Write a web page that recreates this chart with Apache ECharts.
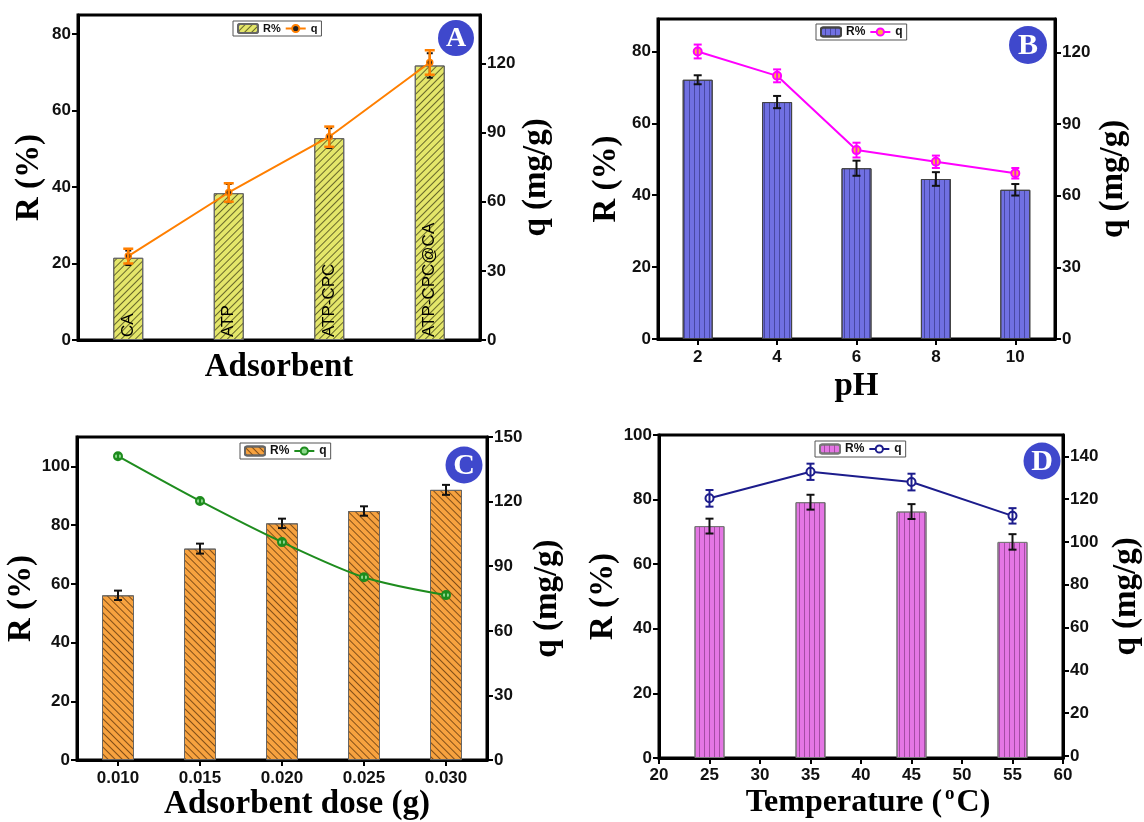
<!DOCTYPE html>
<html>
<head>
<meta charset="utf-8">
<script src="https://cdn.jsdelivr.net/npm/echarts@6/dist/echarts.min.js"></script>
<style>html,body{margin:0;padding:0;background:#fff}#c{width:1144px;height:822px}</style>
</head>
<body>
<div id="c"></div>
<script>
// ---------- DATA ----------
const A_cats = ['CA', 'ATP', 'ATP-CPC', 'ATP-CPC@CA'];
const A_R = [21.5, 38.4, 52.8, 71.8];
const A_Rerr = [1.9, 2.4, 2.6, 3.2];
const A_q = [36.4, 64.0, 88.2, 120.4];
const A_qerr = [3.2, 4.0, 4.4, 5.3];
const A_Rticks = [0, 20, 40, 60, 80];
const A_qticks = [0, 30, 60, 90, 120];

const B_cats = ['2', '4', '6', '8', '10'];
const B_R = [72.1, 65.9, 47.5, 44.5, 41.5];
const B_Rerr = [1.25, 1.7, 2.1, 1.9, 1.6];
const B_q = [120.4, 110.2, 79.1, 74.2, 69.4];
const B_qerr = [2.9, 2.7, 3.1, 2.6, 2.2];
const B_Rticks = [0, 20, 40, 60, 80];
const B_qticks = [0, 30, 60, 90, 120];

const C_cats = ['0.010', '0.015', '0.020', '0.025', '0.030'];
const C_R = [56.1, 72.0, 80.6, 84.8, 92.0];
const C_Rerr = [1.6, 1.7, 1.6, 1.6, 1.7];
const C_q = [141.1, 120.3, 101.2, 84.9, 76.6];
const C_qerr = [1.2, 1.2, 1.2, 1.2, 1.2];
const C_Rticks = [0, 20, 40, 60, 80, 100];
const C_qticks = [0, 30, 60, 90, 120, 150];

const D_temp = [25, 35, 45, 55];
const D_R = [71.8, 79.2, 76.3, 66.9];
const D_Rerr = [2.3, 2.3, 2.3, 2.4];
const D_q = [120.4, 132.8, 128.0, 112.2];
const D_qerr = [3.9, 3.8, 3.9, 3.6];
const D_Rticks = [0, 20, 40, 60, 80, 100];
const D_qticks = [0, 20, 40, 60, 80, 100, 120, 140];

// ---------- STYLE HELPERS ----------
const SERIF = '"Liberation Serif", "Times New Roman", serif';
const SANS = '"Liberation Sans", Arial, sans-serif';
const titleStyle = { fontFamily: SERIF, fontWeight: 'bold', fontSize: 33, color: '#000' };
const labelStyle = { fontFamily: SANS, fontWeight: 'bold', fontSize: 17, color: '#111' };

function yAx(grid, pos, min, max, ticks, name, gap) {
  return {
    type: 'value', gridIndex: grid, position: pos, min: min, max: max,
    name: name, nameLocation: 'middle', nameGap: gap, nameRotate: 90,
    nameTextStyle: titleStyle,
    axisLine: { show: true, onZero: false, lineStyle: { color: '#000', width: 3 } },
    axisTick: { show: true, inside: false, length: 6, lineStyle: { color: '#000', width: 2 }, customValues: ticks },
    axisLabel: Object.assign({ customValues: ticks, margin: 7 }, labelStyle),
    splitLine: { show: false }
  };
}

function errSeries(xi, yi, xs, vals, errs, color, cap, lw, z) {
  return {
    type: 'custom', xAxisIndex: xi, yAxisIndex: yi, z: z, silent: true,
    data: xs.map((x, i) => [x, vals[i] - errs[i], vals[i] + errs[i]]),
    encode: { x: 0, y: [1, 2] },
    renderItem: function (params, api) {
      const x = api.value(0);
      const p1 = api.coord([x, api.value(2)]);
      const p2 = api.coord([x, api.value(1)]);
      const st = { stroke: color, lineWidth: lw };
      return {
        type: 'group', children: [
          { type: 'line', shape: { x1: p1[0], y1: p1[1], x2: p2[0], y2: p2[1] }, style: st },
          { type: 'line', shape: { x1: p1[0] - cap, y1: p1[1], x2: p1[0] + cap, y2: p1[1] }, style: st },
          { type: 'line', shape: { x1: p2[0] - cap, y1: p2[1], x2: p2[0] + cap, y2: p2[1] }, style: st }
        ]
      };
    }
  };
}

function hatch(rot, color, gap) {
  return { symbol: 'rect', symbolSize: 1, dashArrayX: [1, 0], dashArrayY: [1, gap], rotation: rot, color: color };
}

function legendAt(left, top, names, fs) {
  return {
    left: left, top: top, orient: 'horizontal', data: names,
    formatter: n => n.split('|')[0],
    backgroundColor: '#fff', borderColor: '#555', borderWidth: 1, padding: [2, 4],
    itemGap: 4, itemWidth: 20, itemHeight: 9,
    textStyle: { fontFamily: SANS, fontWeight: 'bold', fontSize: fs, color: '#111' },
    selectedMode: false
  };
}

const gridStyle = { show: true, borderColor: '#000', borderWidth: 3, backgroundColor: 'transparent' };

function catX(grid, cats, showLabels, name, gap, pad) {
  return {
    type: 'category', gridIndex: grid, data: cats, boundaryGap: true, position: 'bottom',
    name: name, nameLocation: 'middle', nameGap: gap,
    nameTextStyle: Object.assign({ padding: pad || 0 }, titleStyle),
    axisLine: { show: true, onZero: false, lineStyle: { color: '#000', width: 3 } },
    axisTick: { show: showLabels, alignWithLabel: true, length: 6, lineStyle: { color: '#000', width: 2 } },
    axisLabel: Object.assign({ show: showLabels, margin: 10 }, labelStyle),
    splitLine: { show: false }
  };
}

const option = {
  backgroundColor: '#fff',
  animation: false,
  grid: [
    Object.assign({ left: 78, top: 15, width: 402, height: 325 }, gridStyle),
    Object.assign({ left: 658, top: 19, width: 397, height: 320 }, gridStyle),
    Object.assign({ left: 77, top: 437, width: 410, height: 325 }, gridStyle),
    Object.assign({ left: 659, top: 435, width: 410, height: 326 }, gridStyle)
  ],
  xAxis: [
    catX(0, A_cats, false, 'Adsorbent', 11),
    catX(1, B_cats, true, 'pH', 31),
    catX(2, C_cats, true, 'Adsorbent dose (g)', 27, [0, 0, 0, 30]),
    {
      type: 'value', gridIndex: 3, min: 20, max: 60, interval: 5, position: 'bottom',
      name: 'Temperature ({sup|o}C)', nameLocation: 'middle', nameGap: 27,
      nameTextStyle: Object.assign({ padding: [0, 0, 0, 14], lineHeight: 36,
        rich: { sup: { fontFamily: SERIF, fontWeight: 'bold', fontSize: 19, verticalAlign: 'top', lineHeight: 36, padding: [0, 2, 15, 3] } } }, titleStyle, { fontSize: 32 }),
      axisLine: { show: true, onZero: false, lineStyle: { color: '#000', width: 3 } },
      axisTick: { show: true, length: 6, lineStyle: { color: '#000', width: 2 } },
      axisLabel: Object.assign({ margin: 9 }, labelStyle),
      splitLine: { show: false }
    }
  ],
  yAxis: [
    yAx(0, 'left', 0, 85, A_Rticks, 'R (%)', 32),
    yAx(0, 'right', 0, 141, A_qticks, 'q (mg/g)', 40),
    yAx(1, 'left', 0, 89, B_Rticks, 'R (%)', 35),
    yAx(1, 'right', 0, 134, B_qticks, 'q (mg/g)', 42),
    yAx(2, 'left', 0, 110, C_Rticks, 'R (%)', 33),
    yAx(2, 'right', 0, 150, C_qticks, 'q (mg/g)', 44),
    yAx(3, 'left', 0, 100, D_Rticks, 'R (%)', 35),
    yAx(3, 'right', -1, 150, D_qticks, 'q (mg/g)', 47)
  ],
  legend: [
    legendAt(233, 21, ['R%|A', 'q|A'], 11),
    legendAt(816, 24, ['R%|B', 'q|B'], 12),
    legendAt(240, 443, ['R%|C', 'q|C'], 12),
    legendAt(815, 441, ['R%|D', 'q|D'], 12)
  ],
  graphic: [
    { type: 'circle', shape: { cx: 456, cy: 38, r: 18 }, style: { fill: '#3F48CC' }, z: 50 },
    { type: 'text', x: 456, y: 39, z: 51, style: { text: 'A', fill: '#fff', font: 'bold 28px "Liberation Serif"', align: 'center', verticalAlign: 'middle' } },
    { type: 'circle', shape: { cx: 1028, cy: 45, r: 19 }, style: { fill: '#3F48CC' }, z: 50 },
    { type: 'text', x: 1028, y: 46, z: 51, style: { text: 'B', fill: '#fff', font: 'bold 30px "Liberation Serif"', align: 'center', verticalAlign: 'middle' } },
    { type: 'circle', shape: { cx: 464, cy: 465, r: 18.5 }, style: { fill: '#3F48CC' }, z: 50 },
    { type: 'text', x: 464, y: 466, z: 51, style: { text: 'C', fill: '#fff', font: 'bold 30px "Liberation Serif"', align: 'center', verticalAlign: 'middle' } },
    { type: 'circle', shape: { cx: 1042, cy: 461, r: 18.5 }, style: { fill: '#3F48CC' }, z: 50 },
    { type: 'text', x: 1042, y: 462, z: 51, style: { text: 'D', fill: '#fff', font: 'bold 30px "Liberation Serif"', align: 'center', verticalAlign: 'middle' } }
  ],
  series: [
    // ----- A -----
    {
      type: 'bar', name: 'R%|A', xAxisIndex: 0, yAxisIndex: 0, data: A_R, barWidth: 30, z: 2,
      itemStyle: { color: '#E4E66A', borderColor: '#666', borderWidth: 1, decal: hatch(-Math.PI / 4, 'rgba(60,60,20,0.75)', 4) },
      label: { show: true, position: 'insideBottom', rotate: 90, align: 'left', verticalAlign: 'middle', distance: 3,
        formatter: p => A_cats[p.dataIndex], fontFamily: SANS, fontSize: 17, color: '#000' }
    },
    errSeries(0, 0, A_cats.map((c, i) => i), A_R, A_Rerr, '#111', 3, 2, 3),
    {
      type: 'line', name: 'q|A', xAxisIndex: 0, yAxisIndex: 1, data: A_q, z: 4,
      lineStyle: { color: '#FF7F00', width: 2 }, symbol: 'circle', symbolSize: 6,
      itemStyle: { color: '#222', borderColor: '#FF7F00', borderWidth: 1.5 }
    },
    errSeries(0, 1, A_cats.map((c, i) => i), A_q, A_qerr, '#FF7F00', 5, 2.5, 5),
    // ----- B -----
    {
      type: 'bar', name: 'R%|B', xAxisIndex: 1, yAxisIndex: 2, data: B_R, barWidth: 30, z: 2,
      itemStyle: { color: '#7070E2', borderColor: '#444', borderWidth: 1, decal: hatch(Math.PI / 2, 'rgba(45,45,120,0.6)', 4) }
    },
    errSeries(1, 2, B_cats.map((c, i) => i), B_R, B_Rerr, '#111', 4, 2, 3),
    {
      type: 'line', name: 'q|B', xAxisIndex: 1, yAxisIndex: 3, data: B_q, z: 4,
      lineStyle: { color: '#FF00FF', width: 2 }, symbol: 'circle', symbolSize: 8,
      itemStyle: { color: '#FFB040', borderColor: '#FF00FF', borderWidth: 2 }
    },
    errSeries(1, 3, B_cats.map((c, i) => i), B_q, B_qerr, '#FF00FF', 4, 2, 5),
    // ----- C -----
    {
      type: 'bar', name: 'R%|C', xAxisIndex: 2, yAxisIndex: 4, data: C_R, barWidth: 32, z: 2,
      itemStyle: { color: '#F7A23F', borderColor: '#666', borderWidth: 1, decal: hatch(Math.PI / 4, 'rgba(90,50,10,0.75)', 4) }
    },
    errSeries(2, 4, C_cats.map((c, i) => i), C_R, C_Rerr, '#111', 4, 2, 3),
    {
      type: 'line', name: 'q|C', xAxisIndex: 2, yAxisIndex: 5, data: C_q, z: 4, smooth: 0.3,
      lineStyle: { color: '#1E8C1E', width: 2 }, symbol: 'circle', symbolSize: 8,
      itemStyle: { color: '#8CD88C', borderColor: '#1E8C1E', borderWidth: 2 }
    },
    errSeries(2, 5, C_cats.map((c, i) => i), C_q, C_qerr, '#1E8C1E', 3, 2, 5),
    // ----- D -----
    {
      type: 'bar', name: 'R%|D', xAxisIndex: 3, yAxisIndex: 6, data: D_temp.map((t, i) => [t, D_R[i]]), barWidth: 30, z: 2,
      itemStyle: { color: '#E476E4', borderColor: '#777', borderWidth: 1, decal: hatch(Math.PI / 2, 'rgba(110,40,110,0.55)', 4) }
    },
    errSeries(3, 6, D_temp, D_R, D_Rerr, '#111', 4, 2, 3),
    {
      type: 'line', name: 'q|D', xAxisIndex: 3, yAxisIndex: 7, data: D_temp.map((t, i) => [t, D_q[i]]), z: 4,
      lineStyle: { color: '#1C1C8C', width: 2 }, symbol: 'emptyCircle', symbolSize: 8,
      itemStyle: { color: '#1C1C8C', borderColor: '#1C1C8C', borderWidth: 2 }
    },
    errSeries(3, 7, D_temp, D_q, D_qerr, '#1C1C8C', 4, 2, 5)
  ]
};

const chart = echarts.init(document.getElementById('c'), null, { renderer: 'canvas' });
chart.setOption(option);
</script>
</body>
</html>
